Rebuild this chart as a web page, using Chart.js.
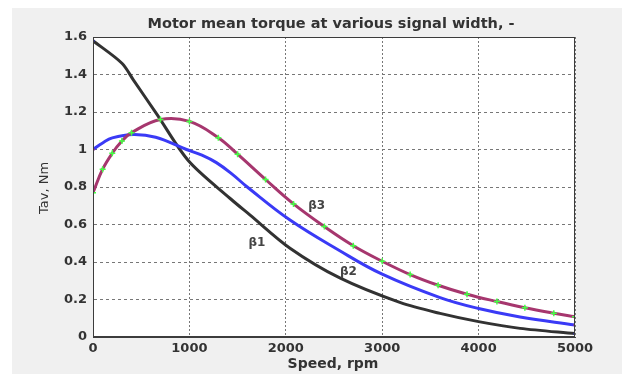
<!DOCTYPE html>
<html>
<head>
<meta charset="utf-8">
<script src="https://cdn.jsdelivr.net/npm/chart.js@4.4.0/dist/chart.umd.min.js"></script>
<style>
	html, body { margin: 0; padding: 0; background: #fff; }
</style>
</head>
<body>
<canvas id="chart" width="622" height="374"></canvas>
<script>
// beta 1 (black)
const speedB1 = [0, 300, 420, 660, 990, 1420, 1630, 2040, 2560, 3190, 3600, 4000, 4430, 5000]
const torqueB1 = [1.58, 1.46, 1.37, 1.19, 0.94, 0.74, 0.65, 0.475, 0.315, 0.183, 0.126, 0.082, 0.046, 0.018]

// beta 2 (blue)
const speedB2 = [0, 100, 200, 420, 650, 970, 1130, 1280, 1440, 1600, 2040, 2560, 3000, 3600, 4000, 4430, 5000]
const torqueB2 = [1.0, 1.035, 1.062, 1.08, 1.065, 1.0, 0.97, 0.93, 0.87, 0.80, 0.625, 0.46, 0.335, 0.21, 0.152, 0.107, 0.064]

// beta 3 (magenta, green markers)
const speedB3 = [0, 100, 200, 300, 400, 700, 1000, 1300, 1500, 1790, 2080, 2400, 2700, 3000, 3290, 3580, 3880, 4190, 4480, 4780, 5000]
const torqueB3 = [0.77, 0.895, 0.98, 1.045, 1.09, 1.16, 1.15, 1.063, 0.975, 0.84, 0.71, 0.589, 0.487, 0.404, 0.333, 0.276, 0.228, 0.189, 0.156, 0.127, 0.108]

// curve labels
const curveNames = ["β1", "β2", "β3"]
const curveSpeed = [1700, 2650, 2320]
const curveTorque = [0.50, 0.35, 0.70]

const xTicks = [0, 1000, 2000, 3000, 4000, 5000]
const yTicks = [0, 0.2, 0.4, 0.6, 0.8, 1, 1.2, 1.4, 1.6]

const pts = (xs, ys) => xs.map((x, i) => ({x: x, y: ys[i]}))
const ends = (n, r) => Array.from({length: n}, (_, i) => (i === 0 || i === n - 1) ? r : 0)

const frame = {
	id: "frame",
	beforeDraw(chart) {
		const {ctx, chartArea: a} = chart
		ctx.save()
		ctx.fillStyle = "#fff"
		ctx.fillRect(0, 0, chart.width, chart.height)
		ctx.fillStyle = "#f0f0f0"
		ctx.fillRect(12, 8, chart.width - 12, chart.height - 8)
		ctx.fillStyle = "#fff"
		ctx.fillRect(a.left, a.top, a.right - a.left, a.bottom - a.top)
		ctx.restore()
	},
	afterDraw(chart) {
		const {ctx, chartArea: a, scales} = chart
		ctx.save()
		ctx.strokeStyle = "#3c3c3c"
		ctx.lineWidth = 1
		ctx.strokeRect(Math.round(a.left) + 0.5, Math.round(a.top) + 0.5,
			Math.round(a.right - a.left) - 1, Math.round(a.bottom - a.top) - 1)

		ctx.fillStyle = "#333"
		ctx.textAlign = "center"
		ctx.textBaseline = "middle"
		ctx.font = "bold 14.5px 'DejaVu Sans'"
		ctx.fillText("Motor mean torque at various signal width, -", 331, 24)
		ctx.font = "bold 14px 'DejaVu Sans'"
		ctx.fillText("Speed, rpm", 333, 364)

		ctx.save()
		ctx.translate(45, 188)
		ctx.rotate(-Math.PI / 2)
		ctx.font = "13px 'DejaVu Sans'"
		ctx.fillText("Tav, Nm", 0, 0)
		ctx.restore()

		ctx.fillStyle = "#444"
		ctx.font = "bold 12px 'DejaVu Sans'"
		curveNames.forEach((n, i) => {
			ctx.fillText(n, scales.x.getPixelForValue(curveSpeed[i]), scales.y.getPixelForValue(curveTorque[i]))
		})
		ctx.restore()
	}
}

const tickFont = {family: "DejaVu Sans", size: 13, weight: "bold"}

new Chart(document.getElementById("chart"), {
	type: "line",
	data: {
		datasets: [
			{
				label: "β3",
				data: pts(speedB3, torqueB3),
				borderColor: "#a6366e",
				borderWidth: 3,
				tension: 0.4,
				pointStyle: "cross",
				pointRadius: 3,
				pointBorderColor: "#44ff44",
				pointBorderWidth: 1.5
			},
			{
				label: "β2",
				data: pts(speedB2, torqueB2),
				borderColor: "#3a3af6",
				borderWidth: 3,
				tension: 0.4,
				pointRadius: ends(speedB2.length, 1.5),
				pointBackgroundColor: "#ff3030",
				pointBorderWidth: 0
			},
			{
				label: "β1",
				data: pts(speedB1, torqueB1),
				borderColor: "#323232",
				borderWidth: 3,
				tension: 0.3,
				pointRadius: ends(speedB1.length, 1.5),
				pointBackgroundColor: "#3030ff",
				pointBorderWidth: 0
			}
		]
	},
	options: {
		responsive: false,
		animation: false,
		events: [],
		layout: {padding: {left: 0, top: 37, right: 47, bottom: 0}},
		plugins: {legend: {display: false}, title: {display: false}, tooltip: {enabled: false}},
		scales: {
			x: {
				type: "linear",
				min: 0,
				max: 5000,
				afterFit: s => { s.height = 37 },
				afterBuildTicks: s => { s.ticks = xTicks.map(v => ({value: v})) },
				ticks: {font: tickFont, color: "#333", padding: 4, maxRotation: 0, callback: v => String(v)},
				grid: {color: "#777", lineWidth: 1, drawTicks: false},
				border: {color: "#3c3c3c", dash: [2, 2]}
			},
			y: {
				min: 0,
				max: 1.6,
				afterFit: s => { s.width = 93 },
				afterBuildTicks: s => { s.ticks = yTicks.map(v => ({value: v})) },
				ticks: {font: tickFont, color: "#333", padding: 6, callback: v => String(+v.toFixed(1))},
				grid: {color: "#777", lineWidth: 1, drawTicks: false},
				border: {color: "#3c3c3c", dash: [3, 3]}
			}
		}
	},
	plugins: [frame]
})
</script>
</body>
</html>
